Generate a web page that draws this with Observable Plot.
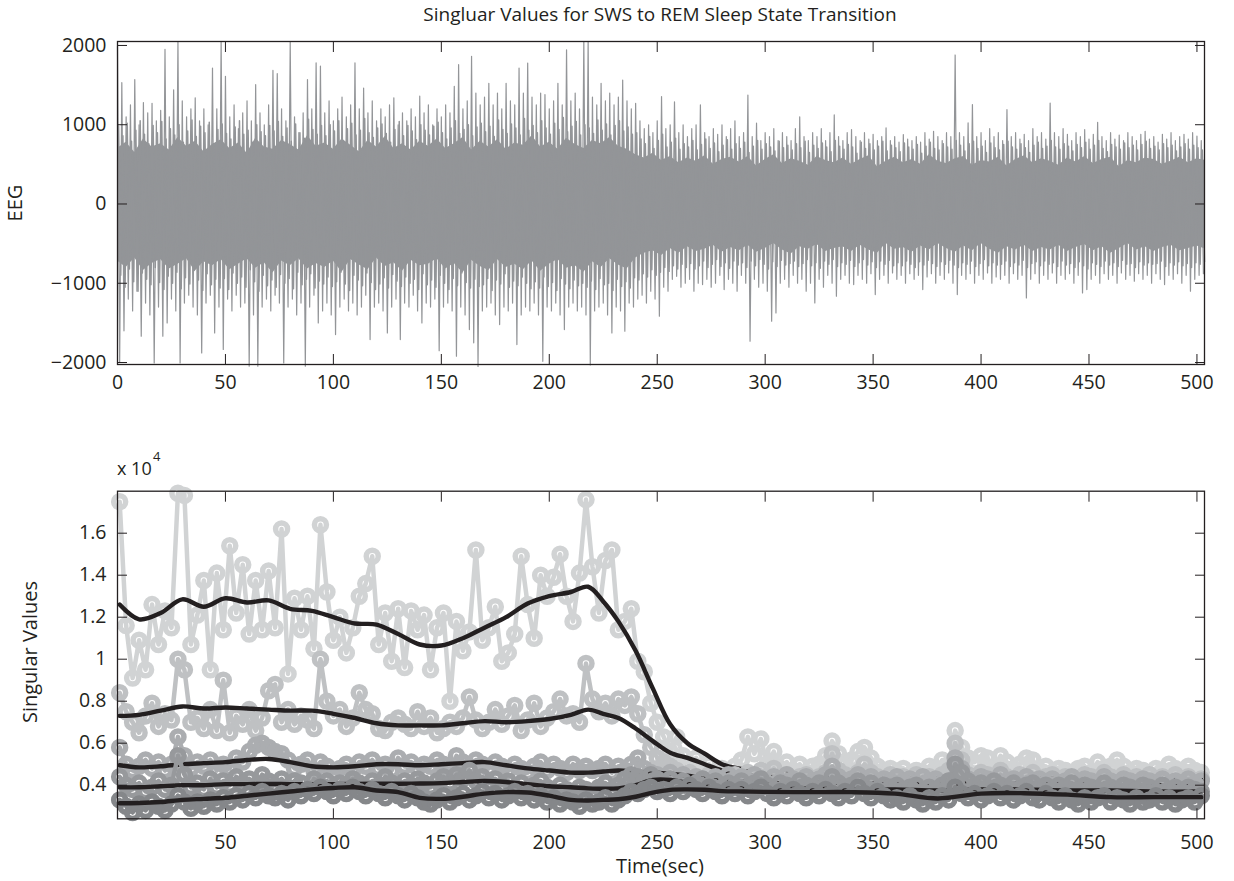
<!DOCTYPE html>
<html><head><meta charset="utf-8">
<script src="https://cdn.jsdelivr.net/npm/d3@7"></script>
<script src="https://cdn.jsdelivr.net/npm/@observablehq/plot@0.6"></script>
<style>
body{margin:0;background:#fff;}
#wrap{position:relative;width:1234px;height:881px;overflow:hidden;font-family:"Open Sans",sans-serif;color:#231f20;background:#fff;}
#top,#bot{position:absolute;left:0;}
#top{top:0}
#bot{top:440px}
.t{position:absolute;white-space:nowrap;font-size:20px;transform:translate(-50%,-50%);line-height:1;}
.r{transform:translate(-50%,-50%) rotate(-90deg);}
</style></head><body><div id="wrap">
<div id="top"></div><div id="bot"></div>
<div class="t" style="left:660px;top:14px;font-size:19px">Singluar Values for SWS to REM Sleep State Transition</div>
<div class="t r" style="left:15px;top:203px">EEG</div>
<div class="t r" style="left:30px;top:652px">Singular Values</div>
<div class="t" style="left:660px;top:866px">Time(sec)</div>
<div class="t" style="left:117px;top:468px;transform:translate(0,-50%);font-size:18px">x 10</div>
<div class="t" style="left:153px;top:456px;transform:translate(0,-50%);font-size:13px">4</div>
</div>
<script>
// ---------- EEG (top panel): envelope ----------
const eegBinSec = 2;
// tallest spike in each 2 s window
const eegMax = [
1990,1530,1100,1250,1570,1000,1280,1150,1270,1050,1180,1950,
1100,1440,2050,1300,1100,1200,1340,1050,1200,1000,1715,1200,
2050,1610,1100,1250,950,1150,1300,1050,1505,1150,1000,1250,
1685,1645,1200,1050,2050,1100,900,1150,1569,1200,1780,1740,
1150,1300,1050,1200,1350,1100,1250,1780,1200,1463,1150,1300,
1050,1200,1100,1250,1340,1000,1150,1050,1200,1100,1360,1150,
1250,1000,1200,1100,1250,1150,1484,1757,1200,1300,1863,1400,
1250,1350,1522,1250,1400,1200,1522,1300,1250,1715,1400,1778,
1350,1250,1400,1380,1200,1300,1522,1250,1946,1300,1400,1200,
2050,2050,1350,1250,1522,1300,1400,1250,1350,1564,1300,1200,
1270,1050,950,1000,900,1050,1355,950,1000,1290,900,1000,
850,950,1000,1250,900,850,950,880,1000,850,950,1050,
850,900,1375,850,1020,800,900,850,950,800,900,850,
800,950,1100,850,800,900,850,950,800,900,1124,850,
800,900,940,850,800,900,820,880,800,850,960,800,
850,780,876,820,800,850,780,900,820,918,850,800,
900,850,1880,900,850,1023,1254,850,900,800,950,850,
900,800,1190,850,900,820,880,800,950,850,900,820,
1274,900,850,950,880,800,900,850,938,820,880,1030,
850,800,900,820,870,800,900,850,800,880,918,820,
850,780,880,820,900,800,850,880,820,900,855,800];
const eegMin = [
-2000,-1600,-1200,-1350,-1100,-1668,-1250,-1400,-2005,-1300,-1668,-1500,
-1200,-1350,-2005,-1250,-1150,-1300,-1400,-1879,-1250,-1150,-1626,-1300,
-1836,-1200,-1350,-1150,-1300,-1250,-2047,-1400,-2047,-1300,-1200,-1350,
-1150,-1250,-2005,-1300,-1200,-1400,-1250,-2047,-1300,-1150,-1500,-1350,
-1250,-1400,-1647,-1300,-1200,-1350,-1250,-1400,-1300,-1150,-1710,-1300,
-1250,-1350,-1626,-1300,-1200,-1710,-1250,-1300,-1150,-1350,-1500,-1250,
-1300,-1200,-1850,-1300,-1250,-1350,-1920,-1300,-1400,-1584,-1752,-2050,
-1350,-1300,-1250,-1400,-1521,-1300,-1350,-1250,-1773,-1400,-1300,-1350,
-1250,-1400,-1985,-1300,-1350,-1250,-1400,-1584,-1300,-1250,-1350,-1300,
-1400,-2030,-1350,-1300,-1250,-1400,-1626,-1300,-1350,-1605,-1250,-1300,
-1200,-1150,-1250,-1100,-1200,-1416,-1050,-1100,-950,-912,-1050,-1000,
-950,-1100,-1000,-1017,-950,-1050,-1000,-900,-1080,-950,-1000,-1100,
-900,-1000,-1731,-950,-1050,-1000,-1100,-1479,-1374,-1000,-950,-1050,
-900,-1000,-950,-1100,-1000,-1248,-950,-1050,-900,-1000,-1164,-950,
-900,-1000,-1017,-900,-950,-1000,-880,-1143,-950,-900,-1000,-870,
-950,-900,-1000,-880,-950,-900,-1080,-920,-880,-1000,-900,-950,
-870,-1000,-1143,-900,-950,-880,-1000,-900,-950,-870,-1000,-920,
-950,-900,-1000,-880,-950,-900,-1185,-950,-880,-1000,-900,-950,
-870,-1000,-900,-950,-880,-1000,-900,-1122,-1080,-950,-900,-1000,
-880,-950,-900,-1000,-870,-950,-900,-975,-880,-950,-900,-1000,
-880,-950,-1017,-900,-950,-880,-1000,-900,-1100,-950,-900,-880];
// typical (busy) extent in each 2 s window
const eegMidHi = [
980,860,1020,790,930,1050,880,760,990,900,1040,820,
950,870,1000,780,920,1060,850,980,900,1030,760,940,
1010,890,820,970,1050,880,930,780,1000,910,860,990,
920,1040,850,960,790,1010,900,830,1070,940,880,990,
860,1000,920,1050,800,950,1020,870,930,1080,900,840,
960,1010,890,780,940,1040,860,990,920,810,1000,930,
870,980,1030,900,820,960,1050,890,940,1000,860,970,
1020,910,980,850,1060,940,890,1010,960,870,1080,930,
990,900,1050,960,880,1020,940,1090,910,980,1040,870,
1000,960,890,1060,930,1010,870,990,1050,920,970,880,
900,820,760,850,700,800,880,720,780,830,690,760,
720,800,680,750,820,700,770,660,740,810,690,760,
700,780,650,730,800,690,760,720,670,790,710,740,
680,760,710,790,650,740,700,770,720,660,800,730,
690,750,720,640,780,700,760,680,730,790,670,740,
710,660,770,720,690,750,640,730,780,700,680,760,
720,690,800,740,670,760,790,700,730,650,770,710,
680,750,790,720,690,760,710,650,740,780,700,730,
800,720,690,760,730,670,750,710,780,690,740,800,
700,660,750,720,690,770,710,740,680,750,790,700,
730,680,760,710,740,670,720,760,690,740,710,680];
const eegMidLo = [
-900,-1050,-820,-980,-1100,-870,-950,-1020,-800,-990,-1080,-910,
-1000,-860,-1070,-930,-1010,-840,-960,-1090,-880,-1020,-950,-1060,
-940,-1080,-870,-1000,-920,-1050,-830,-980,-1100,-900,-1030,-960,
-1050,-890,-1000,-940,-1070,-860,-1020,-950,-880,-1060,-970,-1010,
-920,-1040,-980,-860,-1010,-1090,-900,-960,-1030,-870,-990,-1080,
-1010,-930,-1060,-890,-970,-1040,-920,-1000,-950,-1080,-880,-1020,
-960,-1050,-900,-1000,-1080,-940,-1030,-870,-990,-1060,-950,-1040,
-1020,-940,-1090,-960,-1010,-880,-1050,-970,-1030,-920,-1000,-1070,
-980,-1060,-920,-1040,-990,-1090,-940,-1010,-1070,-960,-1030,-1000,
-1050,-970,-1080,-940,-1020,-1000,-1090,-950,-1040,-980,-1060,-930,
-960,-880,-920,-830,-900,-860,-800,-850,-780,-820,-760,-800,
-750,-820,-780,-720,-800,-760,-700,-790,-740,-810,-720,-770,
-740,-800,-720,-780,-700,-760,-820,-730,-790,-710,-770,-750,
-720,-790,-750,-700,-780,-740,-810,-720,-760,-700,-790,-740,
-760,-710,-790,-740,-700,-770,-730,-800,-720,-760,-710,-780,
-740,-780,-720,-760,-800,-730,-770,-710,-750,-790,-730,-760,
-710,-770,-800,-740,-760,-720,-790,-750,-700,-780,-740,-770,
-760,-720,-790,-740,-770,-710,-800,-750,-730,-780,-720,-760,
-740,-790,-720,-770,-750,-800,-730,-780,-820,-740,-760,-790,
-720,-770,-740,-790,-710,-760,-750,-800,-730,-770,-740,-760,
-750,-720,-790,-740,-770,-730,-780,-750,-800,-740,-760,-730];
// solid core of the trace, one value every 4 s
const coreBinSec = 4;
const eegCoreHi = [
700,780,650,820,720,760,680,840,730,790,660,750,
810,700,770,640,830,720,690,800,750,680,860,730,
770,690,820,740,660,800,720,850,700,760,680,790,
730,820,700,760,840,680,790,720,810,690,770,740,
860,720,780,690,830,750,700,800,760,840,730,690,
620,580,640,550,600,520,580,540,610,500,560,590,
530,600,480,560,620,510,570,540,490,600,550,520,
580,500,560,610,470,540,590,520,560,500,620,540,
510,570,600,490,550,530,590,480,560,610,520,570,
540,490,580,530,600,510,560,590,470,550,520,580,
560,500,540,590,520,570,550];
const eegCoreLo = [
-720,-800,-680,-840,-750,-700,-820,-760,-690,-850,-730,-780,
-700,-830,-760,-690,-810,-740,-870,-720,-780,-690,-820,-750,
-800,-720,-860,-700,-770,-830,-680,-790,-740,-850,-710,-780,
-760,-690,-820,-750,-870,-710,-790,-840,-700,-800,-760,-830,
-720,-850,-760,-700,-810,-780,-860,-730,-800,-690,-770,-820,
-680,-620,-590,-650,-560,-620,-540,-600,-570,-520,-610,-550,
-590,-520,-610,-560,-500,-580,-630,-540,-570,-510,-600,-560,
-540,-600,-520,-580,-620,-500,-570,-550,-610,-530,-580,-500,
-560,-610,-530,-590,-500,-570,-620,-540,-580,-520,-600,-550,
-580,-520,-600,-550,-510,-590,-540,-620,-560,-500,-580,-540,
-600,-550,-520,-590,-560,-530,-570];
const eegXTicks = [0,50,100,150,200,250,300,350,400,450,500];
const eegYTicks = [-2000,-1000,0,1000,2000];

// ---------- Singular values (bottom panel), one value every 3 s starting at t = 1 ----------
const svStart = 1, svStep = 3;
const sv1 = [
17500,11600,9100,10900,9500,12600,10700,12300,11500,17900,17800,10700,
12100,13750,9500,14100,11400,15400,12200,14500,11200,13750,11400,14200,
11500,16200,9300,12900,11400,13000,10500,16400,13200,10900,12000,10300,
11500,13000,13600,14900,10700,12200,9900,12400,9600,12300,11400,12100,
9500,11500,12200,8000,11800,10400,11300,15200,10900,11500,12500,9900,
10300,11200,14900,12600,11000,14000,13000,13900,15000,13000,11800,14100,
17600,14400,12200,14700,15200,11400,11800,12400,9900,9400,7900,7000,
6300,5600,6300,5400,5000,5300,4700,5000,4600,4800,4500,4900,
5200,6300,5500,6200,5000,5600,4800,5100,4700,5000,4600,4900,
5000,5400,6100,5500,5100,5200,5600,5800,5300,4900,4700,4800,
4600,4800,4500,4700,4600,4900,4800,5200,5000,6600,5800,5300,
5100,5400,5300,4800,5400,5100,4800,5000,5300,5200,4700,4900,
4600,4800,4700,4600,4800,4900,4600,5100,4800,4900,5200,4900,
4600,4800,4700,4500,4800,4700,5000,4800,4700,4900,4700,4600];
const sv2 = [
8400,7500,7000,6500,7300,7900,6800,7400,7100,10000,9500,7000,
7200,6700,7600,6600,9000,6500,7300,6900,7600,6600,7200,8500,
8800,7000,7600,6900,7300,7100,6700,10000,8000,7300,7600,6800,
7200,8400,7600,7400,6700,6600,7000,7200,6900,6700,7500,6800,
7200,6500,6700,7000,6800,7200,8200,7100,6700,7000,7600,6900,
7300,7800,6600,7100,7900,6800,7200,7500,8100,7300,7400,7000,
9800,8100,7500,7900,7300,8100,7800,8200,7400,6400,5800,5300,
5100,4900,4700,4500,4600,4400,4300,4500,4200,4400,4300,4500,
4400,4600,4300,4700,4400,4800,4300,4500,4200,4400,4500,4300,
4400,4600,5500,4700,4500,4400,4600,5000,4600,4400,4300,4500,
4300,4400,4200,4500,4300,4400,4200,4500,4700,6000,5200,4500,
4400,4600,4500,4300,4700,4400,4300,4500,4400,4600,4300,4400,
4500,4200,4400,4300,4200,4500,4400,4300,4600,4400,4300,4500,
4300,4400,4200,4500,4300,4400,4200,4500,4300,4400,4200,4300];
const sv3 = [
5800,5000,4700,4900,5200,4800,5100,4700,5000,6300,5400,4800,
5100,4900,5200,4700,5000,4800,5300,5100,5600,5900,6000,5800,
5600,5500,5200,4800,5000,5200,4700,5100,4900,4600,4800,5000,
4700,5100,4900,5200,4800,5000,4700,5300,4900,5100,4800,5000,
4900,5200,5000,4700,5400,5100,4900,5200,5000,4800,5100,4900,
4700,5000,4800,4600,4900,5100,4700,5000,4800,4600,5000,4700,
4900,4700,4800,5000,4600,4900,4700,5000,5300,4800,4600,4500,
4400,4600,4300,4500,4200,4400,4300,4100,4400,4200,4500,4300,
4400,4200,4500,4300,4100,4400,4200,4500,4300,4100,4400,4200,
4300,4500,4900,4400,4200,4300,4500,4200,4400,4100,4300,4200,
4400,4200,4300,4100,4400,4200,4300,4100,4200,5300,4800,4300,
4200,4400,4300,4100,4500,4200,4300,4100,4400,4200,4300,4100,
4300,4100,4200,4400,4100,4300,4200,4100,4400,4200,4100,4300,
4200,4100,4300,4200,4100,4300,4000,4200,4100,4300,4100,4200];
const sv4 = [
4400,4000,3800,4100,3700,3900,4200,3800,4000,5400,4500,3900,
4100,3800,4300,3900,4200,4000,4400,4100,4300,4000,4500,4200,
4000,4300,3900,4200,4100,3800,4300,4000,4200,3900,4100,4000,
4300,4100,3900,4200,4000,4400,4100,3900,4200,4000,4300,4100,
3900,4200,4400,4100,4500,4300,4700,4200,4400,4100,4300,4000,
4200,3900,4100,3800,4000,4200,3900,3700,4000,3800,3700,3900,
3800,3700,3900,4100,3800,4000,4300,4500,4400,4200,4500,4300,
4100,4300,4000,4200,3900,4100,4300,4000,4200,3900,4100,4000,
4200,3900,4100,4300,4000,3800,4100,4000,3900,4200,4000,3900,
4100,4000,4400,4100,3900,4000,4200,3900,4100,3800,4000,3900,
4000,3800,3900,4000,3700,3900,3800,4000,4200,5000,4600,4200,
4000,4100,3900,4200,4000,3900,4100,3800,4000,4100,3900,4000,
3800,4000,3900,4100,3800,4000,3900,3800,4100,3900,3800,4000,
3900,3800,4000,3900,3700,4000,3800,3900,3700,3900,3800,3700];
const sv5 = [
3300,3000,2700,3100,2800,3200,3000,2800,3100,3500,3200,2900,
3200,3000,3300,3100,3400,3200,3500,3300,3600,3400,3700,3500,
3400,3600,3300,3700,3500,3800,3600,3900,3700,3500,3800,3600,
3900,3700,3500,3800,3600,3400,3700,3500,3300,3600,3400,3200,
3100,3300,3500,3200,3400,3600,3300,3500,3700,3400,3600,3300,
3500,3700,3400,3600,3300,3500,3200,3400,3100,3300,3200,3000,
3300,3100,3200,3400,3100,3300,3500,3700,3600,3800,3900,3700,
3800,3600,3900,3700,4000,3800,3600,3900,3700,3500,3800,3600,
3800,3500,3700,3900,3600,3400,3700,3500,3800,3600,3400,3700,
3500,3800,3600,3400,3700,3500,3900,3600,3400,3700,3500,3300,
3400,3200,3500,3300,3100,3400,3200,3500,3300,3900,3600,3400,
3600,3300,3500,3700,3400,3600,3300,3500,3700,3400,3300,3600,
3400,3200,3500,3300,3100,3400,3200,3400,3500,3200,3400,3300,
3100,3400,3200,3300,3500,3200,3400,3100,3300,3400,3200,3500];
// smoothed (black) curves
const smoothT = [1,10,20,30,40,50,60,70,80,90,100,110,120,130,140,150,160,170,180,190,200,210,218,225,232,240,248,256,264,272,280,290,300,320,340,360,380,400,420,440,460,480,502];
const smooth1 = [12600,11900,12200,12850,12500,12900,12700,12800,12400,12300,12000,11700,11650,11200,10700,10650,11000,11500,12000,12650,13000,13200,13450,12750,11800,10400,8600,6900,6000,5500,5000,4750,4600,4550,4550,4500,4450,4500,4450,4450,4450,4400,4400];
const smooth2 = [7300,7350,7550,7750,7650,7700,7650,7600,7550,7550,7400,7200,6950,6850,6850,6850,6950,7050,7000,7050,7150,7350,7600,7400,7200,6700,6100,5550,5300,5000,4700,4500,4400,4350,4350,4300,4300,4350,4300,4300,4250,4250,4250];
const smooth3 = [4950,4850,4900,5000,5050,5100,5200,5250,5100,4900,4850,4900,5000,5000,4950,5000,5050,5100,4950,4800,4700,4600,4600,4650,4700,4650,4600,4550,4450,4300,4200,4150,4100,4100,4100,4050,4050,4100,4050,4050,4000,4000,4000];
const smooth4 = [3900,3900,3950,4000,4000,4050,4050,4060,4050,4050,4050,4060,4070,4070,4080,4100,4150,4200,4150,4050,3950,3900,3850,3830,3850,4000,4250,4250,4100,3950,3850,3850,3800,3850,3800,3800,3750,3800,3800,3750,3750,3700,3700];
const smooth5 = [3140,3150,3200,3300,3350,3400,3500,3600,3700,3800,3870,3900,3750,3670,3400,3350,3450,3600,3670,3650,3500,3300,3270,3300,3330,3450,3650,3780,3800,3780,3720,3700,3680,3670,3670,3600,3370,3600,3620,3550,3430,3430,3430];
const svColors = ["#d1d3d4","#bfc1c3","#abadb0","#97999c","#85878a"];
const svXTicks = [50,100,150,200,250,300,350,400,450,500];
const svYTicks = [4000,6000,8000,10000,12000,14000,16000];

// ---------- build ----------
const ink = "#231f20";
const eegGray = "#939598";
const eegPeaks = [], eegMid = [];
eegMax.forEach((v, i) => {
  eegPeaks.push({t: i * eegBinSec, v});
  eegPeaks.push({t: i * eegBinSec + eegBinSec / 2, v: eegMin[i]});
  eegMid.push({t: i * eegBinSec + eegBinSec / 4, v: eegMidHi[i]});
  eegMid.push({t: i * eegBinSec + 3 * eegBinSec / 4, v: eegMidLo[i]});
});
const eegCore = eegCoreHi.map((hi, i) => ({t: i * coreBinSec, hi, lo: eegCoreLo[i]}));
const fmtSigned = d => (d < 0 ? "\u2212" + Math.abs(d) : String(d));

function boxAxes(xt, yt, yfmt, xpad) {
  return [
    Plot.axisX(xt, {anchor: "bottom", tickSize: 10, dy: -10, fill: "none", stroke: ink, label: null}),
    Plot.axisX(xt, {anchor: "top", tickSize: 10, dy: 10, fill: "none", stroke: ink, label: null}),
    Plot.axisY(yt, {anchor: "left", tickSize: 10, dx: 10, fill: "none", stroke: ink, label: null}),
    Plot.axisY(yt, {anchor: "right", tickSize: 10, dx: -10, fill: "none", stroke: ink, label: null}),
    Plot.axisX(xt, {anchor: "bottom", tickSize: 0, tickPadding: xpad, fill: ink, label: null, tickFormat: d => String(d)}),
    Plot.axisY(yt, {anchor: "left", tickSize: 0, tickPadding: 11, fill: ink, label: null, tickFormat: yfmt}),
    Plot.frame({stroke: ink, strokeWidth: 1.3})
  ];
}

const style = {fontFamily: "'Open Sans', sans-serif", fontSize: "19.5px", color: ink, background: "transparent", overflow: "visible"};

const topPlot = Plot.plot({
  width: 1234, height: 400,
  marginLeft: 117, marginRight: 30, marginTop: 41, marginBottom: 36,
  x: {domain: [0, 503.5]},
  y: {domain: [-2025, 2050]},
  style,
  marks: [
    Plot.areaY(eegCore, {x: "t", y1: "lo", y2: "hi", fill: eegGray, clip: true}),
    Plot.line(eegMid, {x: "t", y: "v", stroke: eegGray, strokeWidth: 1.5}),
    Plot.line(eegPeaks, {x: "t", y: "v", stroke: eegGray, strokeWidth: 1.2}),
    ...boxAxes(eegXTicks, eegYTicks, fmtSigned, 11)
  ]
});
document.getElementById("top").appendChild(topPlot);

const svAll = [sv1, sv2, sv3, sv4, sv5];
const smAll = [smooth1, smooth2, smooth3, smooth4, smooth5];
const svMarks = [];
svAll.forEach((arr, k) => {
  const data = arr.map((v, i) => ({t: svStart + i * svStep, v}));
  const sm = smAll[k].map((v, i) => ({t: smoothT[i], v}));
  svMarks.push(Plot.line(data, {x: "t", y: "v", stroke: svColors[k], strokeWidth: 4.5}));
  svMarks.push(Plot.dot(data, {x: "t", y: "v", r: 6, stroke: svColors[k], strokeWidth: 5.5, fill: "none"}));
  svMarks.push(Plot.line(sm, {x: "t", y: "v", stroke: ink, strokeWidth: 4.4, curve: "catmull-rom"}));
});

const botPlot = Plot.plot({
  width: 1234, height: 441,
  marginLeft: 117, marginRight: 30, marginTop: 50.7, marginBottom: 62.7,
  x: {domain: [0, 503.5]},
  y: {domain: [2400, 18000]},
  style,
  marks: [
    ...svMarks,
    ...boxAxes(svXTicks, svYTicks, d => String(d / 10000), 16)
  ]
});
document.getElementById("bot").appendChild(botPlot);
</script>
</body></html>
